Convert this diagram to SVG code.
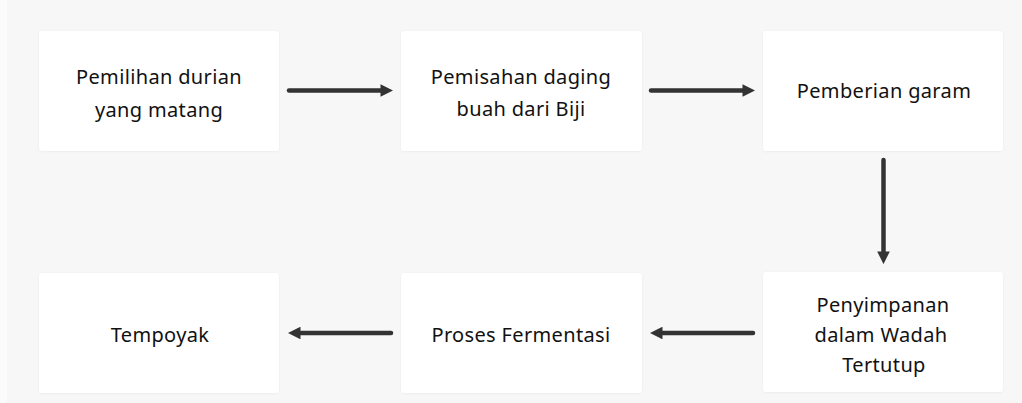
<svg xmlns="http://www.w3.org/2000/svg" width="1022" height="403" viewBox="0 0 1022 403">
  <style>
    .box { fill: #ffffff; }
    .lbl { font-family: "Noto Sans", "Liberation Sans", sans-serif; font-size: 20px; fill: #111111; text-anchor: middle; letter-spacing: 0.35px; }
    .conn { stroke: #333333; stroke-width: 4.5; stroke-linecap: round; fill: none; }
  </style>
  <defs>
    <marker id="ah" viewBox="0 0 10 10" refX="2" refY="5" markerWidth="2.8" markerHeight="2.8" orient="auto" markerUnits="strokeWidth">
      <path d="M0,0 L10,5 L0,10 Z" fill="#333333"/>
    </marker>
    <filter id="sh" x="-5%" y="-5%" width="110%" height="110%">
      <feDropShadow dx="0" dy="0.5" stdDeviation="0.8" flood-color="#000" flood-opacity="0.06"/>
    </filter>
  </defs>
  <rect x="0" y="0" width="1022" height="403" fill="#f7f7f7"/>
  <rect x="0" y="0" width="7" height="403" fill="#fbfbfb"/>

  <g id="node-pemilihan">
    <rect class="box" x="39" y="31" width="240" height="120" rx="3" filter="url(#sh)"/>
    <text class="lbl" x="159" y="84">Pemilihan durian</text>
    <text class="lbl" x="159" y="117">yang matang</text>
  </g>
  <g id="node-pemisahan">
    <rect class="box" x="401" y="31" width="241" height="120" rx="3" filter="url(#sh)"/>
    <text class="lbl" x="521" y="84">Pemisahan daging</text>
    <text class="lbl" x="521" y="116">buah dari Biji</text>
  </g>
  <g id="node-garam">
    <rect class="box" x="763" y="31" width="240" height="120" rx="3" filter="url(#sh)"/>
    <text class="lbl" x="884" y="98">Pemberian garam</text>
  </g>
  <g id="node-penyimpanan">
    <rect class="box" x="763" y="272" width="240" height="120" rx="3" filter="url(#sh)"/>
    <text class="lbl" x="883" y="312">Penyimpanan</text>
    <text class="lbl" x="881" y="342">dalam Wadah</text>
    <text class="lbl" x="884" y="372">Tertutup</text>
  </g>
  <g id="node-fermentasi">
    <rect class="box" x="401" y="273" width="241" height="120" rx="3" filter="url(#sh)"/>
    <text class="lbl" x="521" y="342">Proses Fermentasi</text>
  </g>
  <g id="node-tempoyak">
    <rect class="box" x="39" y="273" width="240" height="120" rx="3" filter="url(#sh)"/>
    <text class="lbl" x="160" y="342">Tempoyak</text>
  </g>

  <g id="connectors">
    <line class="conn" x1="289" y1="90.5" x2="383" y2="90.5" marker-end="url(#ah)"/>
    <line class="conn" x1="651" y1="90.5" x2="745" y2="90.5" marker-end="url(#ah)"/>
    <line class="conn" x1="883.5" y1="160" x2="883.5" y2="254" marker-end="url(#ah)"/>
    <line class="conn" x1="753" y1="333" x2="660" y2="333" marker-end="url(#ah)"/>
    <line class="conn" x1="391" y1="333" x2="298" y2="333" marker-end="url(#ah)"/>
  </g>
</svg>
